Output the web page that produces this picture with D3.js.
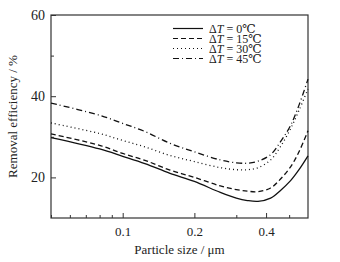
<!DOCTYPE html>
<html>
<head>
<meta charset="utf-8">
<style>
    html, body { margin: 0; padding: 0; background: #fff; }
</style>
<script src="https://d3js.org/d3.v7.min.js"></script>
</head>
<body>
<svg id="chart" width="340" height="262" font-family="'Liberation Serif', 'DejaVu Serif', serif"></svg>
<script>
// particle size (µm) and removal efficiency (%)
const sizes = [0.05, 0.08, 0.1, 0.124, 0.158, 0.2, 0.257, 0.3, 0.334, 0.37, 0.418, 0.46, 0.507, 0.55, 0.6];
const eff0  = [29.8, 27.0, 25.2, 23.4, 21.0, 19.0, 16.3, 14.9, 14.3, 14.1, 14.9, 16.8, 19.2, 21.9, 25.3];
const eff15 = [30.7, 27.9, 25.9, 24.2, 21.8, 20.0, 17.9, 17.0, 16.6, 16.5, 17.4, 19.6, 22.6, 26.3, 31.5];
const eff30 = [33.4, 30.8, 29.1, 27.5, 25.4, 23.9, 22.4, 21.9, 21.9, 22.4, 24.3, 27.6, 32.0, 36.5, 41.8];
const eff45 = [38.3, 35.3, 33.3, 31.3, 28.4, 26.3, 24.3, 23.6, 23.5, 24.0, 25.6, 28.8, 32.8, 37.8, 44.2];
const seriesNames = ["0℃", "15℃", "30℃", "45℃"];
const xMajor = [0.1, 0.2, 0.4];
const xMinor = [0.05, 0.06, 0.07, 0.08, 0.09, 0.3, 0.5];
const yMajor = [20, 40, 60];
const yMinor = [30, 50];

const dashes = [null, "5,3", "1,3", "6,3,1,3"];
const series = [eff0, eff15, eff30, eff45];
const serif = "Liberation Serif, DejaVu Serif, serif";

const margin = { top: 15, right: 32, bottom: 44, left: 51 };
const width = 340 - margin.left - margin.right;
const height = 262 - margin.top - margin.bottom;

const svg = d3.select("#chart").append("g")
    .attr("transform", `translate(${margin.left},${margin.top})`);

const x = d3.scaleLog().domain([0.05, 0.6]).range([0, width]);
const y = d3.scaleLinear().domain([10, 60]).range([height, 0]);

// ticks pointing inward
svg.append("g")
    .attr("transform", `translate(0,${height})`)
    .call(d3.axisBottom(x).tickValues(xMajor).tickSize(-5).tickPadding(9).tickFormat(d3.format(".1f")))
    .attr("font-family", serif).attr("font-size", 13)
    .call(g => g.select(".domain").remove());
svg.append("g")
    .attr("transform", `translate(0,${height})`)
    .call(d3.axisBottom(x).tickValues(xMinor).tickSize(-3).tickFormat(""))
    .call(g => g.select(".domain").remove());
svg.append("g")
    .call(d3.axisLeft(y).tickValues(yMajor).tickSize(-5).tickPadding(6))
    .attr("font-family", serif).attr("font-size", 14)
    .call(g => g.select(".domain").remove());
svg.append("g")
    .call(d3.axisLeft(y).tickValues(yMinor).tickSize(-3).tickFormat(""))
    .call(g => g.select(".domain").remove());
svg.selectAll(".tick line").attr("stroke", "#333");
svg.selectAll(".tick text").attr("fill", "#222");

svg.append("rect")
    .attr("width", width).attr("height", height)
    .attr("fill", "none").attr("stroke", "#333").attr("stroke-width", 1.2);

const line = d3.line()
    .x((d, i) => x(sizes[i]))
    .y(d => y(d))
    .curve(d3.curveCatmullRom.alpha(0.5));

svg.selectAll(".curve")
    .data(series)
    .enter()
    .append("path")
    .attr("class", "curve")
    .attr("d", line)
    .attr("fill", "none")
    .attr("stroke", "#111")
    .attr("stroke-width", 1.3)
    .attr("stroke-dasharray", (d, i) => dashes[i]);

// legend
const legend = svg.append("g").attr("transform", "translate(122,13.5)")
    .attr("font-family", serif).attr("font-size", 12).attr("fill", "#222");
seriesNames.forEach((name, i) => {
    const row = legend.append("g").attr("transform", `translate(0,${i * 10})`);
    row.append("line")
        .attr("x1", 0).attr("x2", 30)
        .attr("stroke", "#111").attr("stroke-width", 1.2)
        .attr("stroke-dasharray", dashes[i]);
    const t = row.append("text").attr("x", 36).attr("dy", "0.35em");
    t.append("tspan").text("Δ");
    t.append("tspan").attr("font-style", "italic").text("T");
    t.append("tspan").text(" = " + name);
});

svg.append("text")
    .attr("x", width / 2).attr("y", height + 36)
    .attr("text-anchor", "middle").attr("font-family", serif).attr("font-size", 13).attr("fill", "#222")
    .text("Particle size / μm");
svg.append("text")
    .attr("transform", `translate(-34,${height / 2}) rotate(-90)`)
    .attr("text-anchor", "middle").attr("font-family", serif).attr("font-size", 13).attr("fill", "#222")
    .text("Removal efficiency / %");
</script>
</body>
</html>
